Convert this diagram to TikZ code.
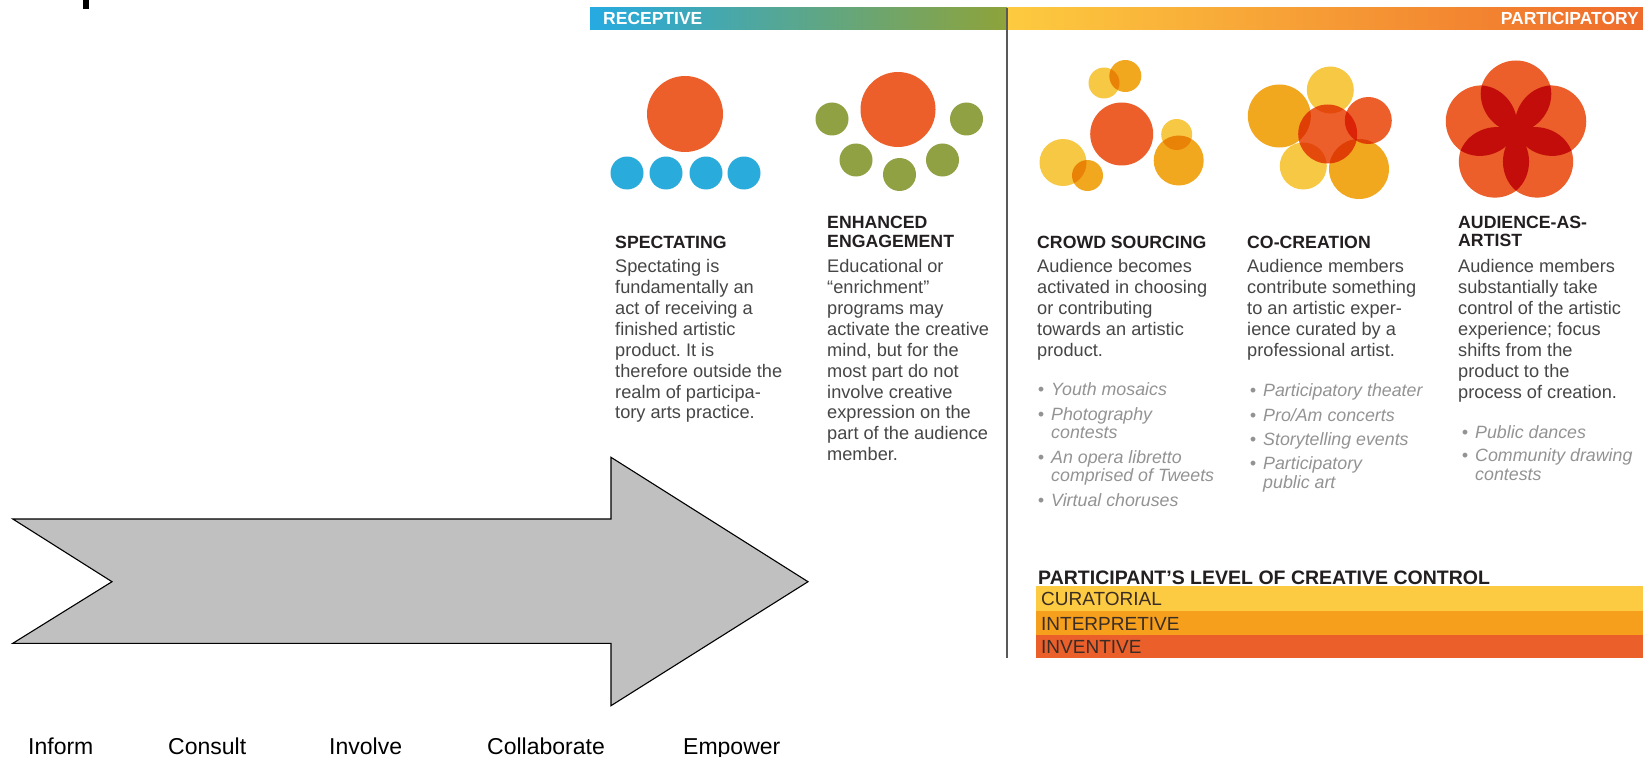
\documentclass[tikz,border=0pt]{standalone}
\usepackage{fontspec}
\setmainfont{Liberation Sans}
\usetikzlibrary{calc}
\frenchspacing
\definecolor{recL}{HTML}{25AAE1}
\definecolor{recR}{HTML}{8EA33A}
\definecolor{parL}{HTML}{FDCB3F}
\definecolor{parM}{HTML}{F7A421}
\definecolor{parR}{HTML}{EF6B2B}
\definecolor{redO}{HTML}{EC5F2B}
\definecolor{blueC}{HTML}{29ABDC}
\definecolor{greenC}{HTML}{8FA142}
\definecolor{yelC}{HTML}{F7C844}
\definecolor{oraC}{HTML}{F1A81F}
\definecolor{darkR}{HTML}{C20D0A}
\definecolor{barY}{HTML}{FCCB42}
\definecolor{barO}{HTML}{F59F1D}
\definecolor{barR}{HTML}{EB5F2B}
\definecolor{hdrc}{HTML}{231F20}
\definecolor{bodyc}{HTML}{464646}
\definecolor{itemc}{HTML}{939393}
\definecolor{arrowc}{HTML}{C0C0C0}
\newcommand\tlines[2]{\vtop{\baselineskip=#1\relax\lineskiplimit=-100pt\lineskip=0pt\halign{##\hfil\cr#2\crcr}}}
\newcommand\bul{\llap{\textbullet\hskip 7pt}}
\tikzset{
  hdr/.style={anchor=base west, inner sep=0pt, text=hdrc, font=\bfseries\fontsize{17.7pt}{19pt}\selectfont},
  hdrw/.style={inner sep=0pt, text=white, font=\bfseries\fontsize{17.5pt}{19pt}\selectfont},
  bodytxt/.style={anchor=base west, inner sep=0pt, text=bodyc, font=\fontsize{18.2pt}{21pt}\selectfont},
  itemtxt/.style={anchor=base west, inner sep=0pt, text=itemc, font=\itshape\fontsize{17.8pt}{18.5pt}\selectfont},
  bartxt/.style={anchor=base west, inner sep=0pt, text=hdrc!85!brown, font=\fontsize{19pt}{21pt}\selectfont},
  steplabel/.style={anchor=base west, inner sep=0pt, text=black, font=\fontsize{23pt}{26pt}\selectfont},
  divline/.style={draw=black!65, line width=1.8pt},
  petal/.style={fill=darkR},
}
\begin{document}
\begin{tikzpicture}[x=1pt,y=-1pt]
\useasboundingbox (0,0) rectangle (1643,757);
\fill[white] (0,0) rectangle (1643,757);
\fill[black] (83,0) rectangle (89,9);

% header bars
\shade[left color=recL, right color=recR] (590,8) rectangle (1007,30);
\shade[left color=parL, middle color=parM, right color=parR] (1007,8) rectangle (1643,30);
\node[hdrw, anchor=base west] (receptive) at (603,25) {RECEPTIVE};
\node[hdrw, anchor=base east] (participatory) at (1639,25) {PARTICIPATORY};
\draw[divline] (1007,8) -- (1007,658);

% spectating icon
\fill[redO] (685,114) circle (38);
\foreach \cx in {627,666,706,744} \fill[blueC] (\cx,173) circle (16.5);

% enhanced engagement icon
\fill[redO] (898,109.5) circle (37.5);
\fill[greenC] (832,119) circle (16.5);
\fill[greenC] (966.5,119) circle (16.5);
\fill[greenC] (856,160) circle (16.5);
\fill[greenC] (899.5,174.5) circle (16.5);
\fill[greenC] (942.5,160) circle (16.5);

% crowd sourcing icon
\begin{scope}[blend mode=multiply]
\fill[yelC] (1104,83) circle (15.5);
\fill[oraC] (1125.3,76) circle (16);
\fill[redO] (1121.7,134) circle (31.5);
\fill[yelC] (1176.7,134.5) circle (15.5);
\fill[oraC] (1178.7,160.5) circle (25);
\fill[yelC] (1063,162.5) circle (23.5);
\fill[oraC] (1087.5,175.5) circle (15.5);
\end{scope}

% co-creation icon
\begin{scope}[blend mode=multiply]
\fill[yelC] (1330.3,90) circle (23.5);
\fill[oraC] (1279.3,116) circle (31.5);
\fill[redO] (1327.7,134) circle (29.5);
\fill[redO] (1368.3,120.5) circle (23.5);
\fill[yelC] (1303.3,166) circle (23.5);
\fill[oraC] (1359,169) circle (30);
\end{scope}

% audience-as-artist icon
\coordinate (fC) at (1516,132.5);
\foreach \px/\py in {0/-36, 34.24/-11.12, 21.16/29.12, -21.16/29.12, -34.24/-11.12}
  \fill[redO] ($(fC)+(\px,\py)$) circle (36);
\foreach \px/\py in {34.24/-47.12, 55.4/18, 0/58.24, -55.4/18, -34.24/-47.12}
  \fill[petal] (fC) to[bend left=50] ($(fC)+(\px,\py)$) to[bend left=50] (fC);

% column texts
\node[hdr] (spH) at (615,248) {SPECTATING};
\node[bodytxt] (spB) at (615,272.3) {\tlines{20.95pt}{Spectating is\cr fundamentally an\cr act of receiving a\cr finished artistic\cr product. It is\cr therefore outside the\cr realm of participa-\cr tory arts practice.}};

\node[hdr] (enH) at (827,228) {\tlines{19pt}{ENHANCED\cr ENGAGEMENT}};
\node[bodytxt] (enB) at (827,272.3) {\tlines{20.95pt}{Educational or\cr “enrichment”\cr programs may\cr activate the creative\cr mind, but for the\cr most part do not\cr involve creative\cr expression on the\cr part of the audience\cr member.}};

\node[hdr] (crH) at (1037,248) {CROWD SOURCING};
\node[bodytxt] (crB) at (1037,272.3) {\tlines{20.95pt}{Audience becomes\cr activated in choosing\cr or contributing\cr towards an artistic\cr product.}};
\node[itemtxt] (cr1) at (1051,395) {\bul Youth mosaics};
\node[itemtxt] (cr2) at (1051,420) {\tlines{18.4pt}{\bul Photography\cr contests}};
\node[itemtxt] (cr3) at (1051,463.3) {\tlines{18.4pt}{\bul An opera libretto\cr comprised of Tweets}};
\node[itemtxt] (cr4) at (1051,506.7) {\bul Virtual choruses};

\node[hdr] (coH) at (1247,248) {CO-CREATION};
\node[bodytxt] (coB) at (1247,272.3) {\tlines{20.95pt}{Audience members\cr contribute something\cr to an artistic exper-\cr ience curated by a\cr professional artist.}};
\node[itemtxt] (co1) at (1263,396.7) {\bul Participatory theater};
\node[itemtxt] (co2) at (1263,421) {\bul Pro/Am concerts};
\node[itemtxt] (co3) at (1263,445) {\bul Storytelling events};
\node[itemtxt] (co4) at (1263,469) {\tlines{19pt}{\bul Participatory\cr public art}};

\node[hdr] (auH) at (1458,228.3) {\tlines{18.5pt}{AUDIENCE-AS-\cr ARTIST}};
\node[bodytxt] (auB) at (1458,272.3) {\tlines{20.95pt}{Audience members\cr substantially take\cr control of the artistic\cr experience; focus\cr shifts from the\cr product to the\cr process of creation.}};
\node[itemtxt] (au1) at (1475,438.3) {\bul Public dances};
\node[itemtxt] (au2) at (1475,461.7) {\tlines{18.4pt}{\bul Community drawing\cr contests}};

% level of creative control
\node[hdr, font=\bfseries\fontsize{19.5pt}{21pt}\selectfont] (ctrlH) at (1038,584) {PARTICIPANT’S LEVEL OF CREATIVE CONTROL};
\fill[barY] (1035.5,586) rectangle (1643,610.5);
\fill[barO] (1035.5,610.5) rectangle (1643,635);
\fill[barR] (1035.5,635) rectangle (1643,658);
\node[bartxt] (cur) at (1041,605.5) {CURATORIAL};
\node[bartxt] (int) at (1041,630) {INTERPRETIVE};
\node[bartxt] (inv) at (1041,653.5) {INVENTIVE};

% big arrow
\filldraw[fill=arrowc, draw=black, line width=1.1pt, line join=miter]
  (12.8,519) -- (611,519) -- (611,457.3) -- (808,581.7) -- (611,705.7)
  -- (611,643.3) -- (12.8,643.3) -- (112,581.7) -- cycle;

% step labels
\node[steplabel] (inform) at (28,754) {Inform};
\node[steplabel] (consult) at (168,754) {Consult};
\node[steplabel] (involve) at (329,754) {Involve};
\node[steplabel] (collab) at (487,754) {Collaborate};
\node[steplabel] (empower) at (683,754) {Empower};
\end{tikzpicture}
\end{document}
